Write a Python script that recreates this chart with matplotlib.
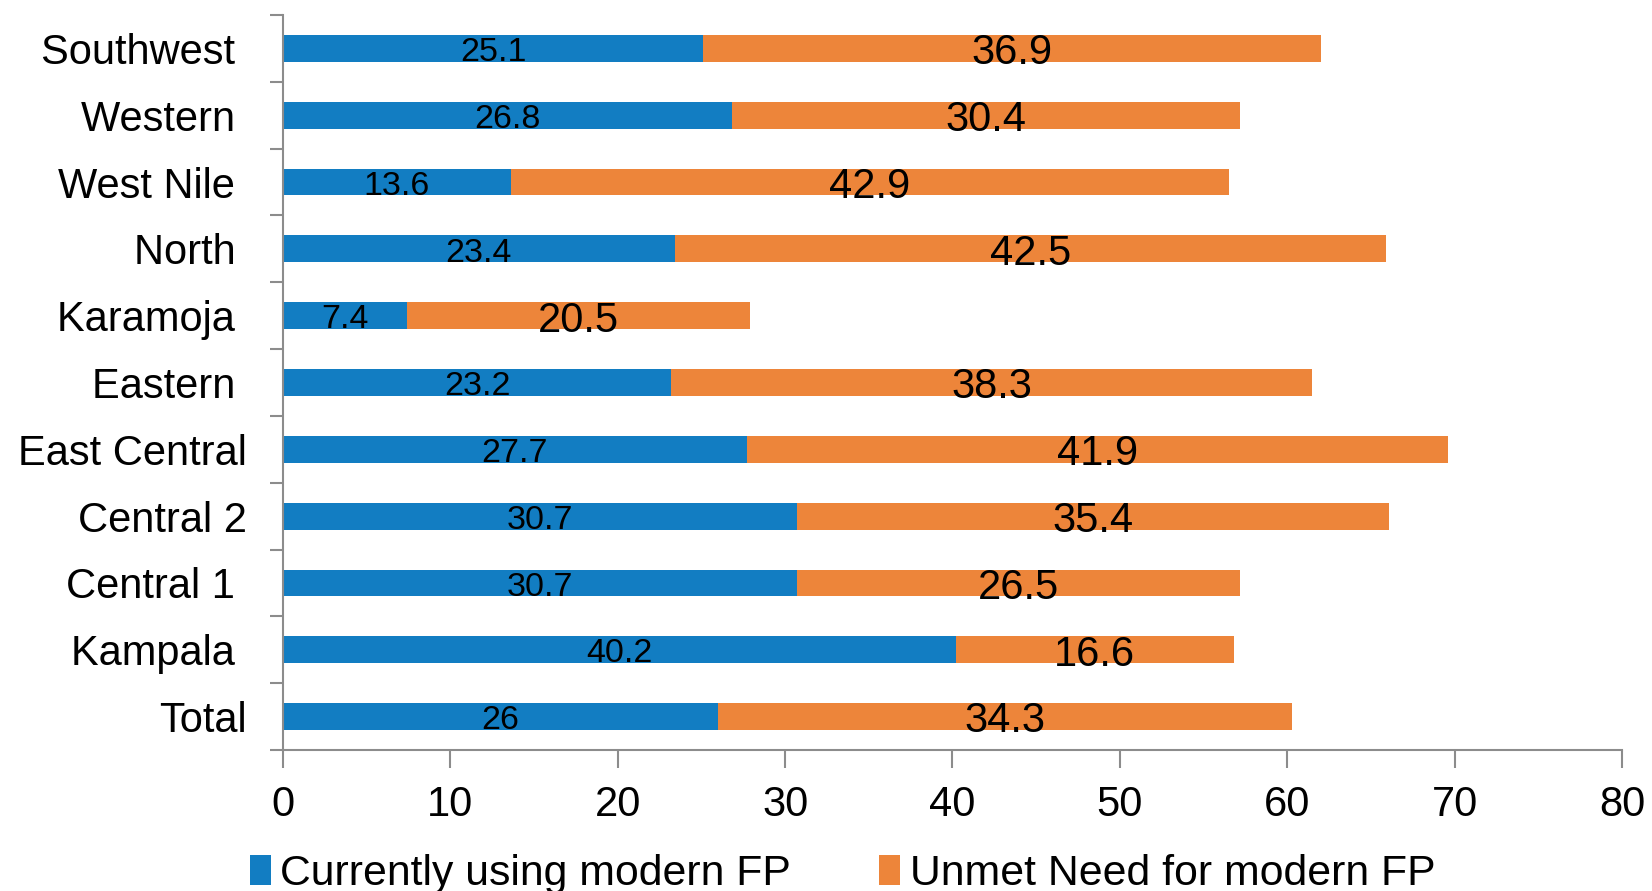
import matplotlib
matplotlib.use("Agg")
import matplotlib.pyplot as plt
from matplotlib.ticker import FixedLocator

categories = ["Southwest ", "Western ", "West Nile ", "North ", "Karamoja ", "Eastern ",
              "East Central", "Central 2", "Central 1 ", "Kampala ", "Total"]
using_modern = [25.1, 26.8, 13.6, 23.4, 7.4, 23.2, 27.7, 30.7, 30.7, 40.2, 26]
unmet_need = [36.9, 30.4, 42.9, 42.5, 20.5, 38.3, 41.9, 35.4, 26.5, 16.6, 34.3]
series_names = ["Currently using modern FP", "Unmet Need for modern FP"]
x_ticks = [0, 10, 20, 30, 40, 50, 60, 70, 80]

BLUE = "#127DC2"
ORANGE = "#ED853A"
GRAY = "#8C8C8C"
FONT = "Liberation Sans"

plt.rcParams["font.family"] = [FONT, "DejaVu Sans"]

fig = plt.figure(figsize=(16.52, 8.91), dpi=100)
ax = fig.add_axes([0.1713, 0.1582, 0.9818 - 0.1713, 0.9832 - 0.1582])

n = len(categories)
ypos = [n - 1 - i for i in range(n)]

b1 = ax.barh(ypos, using_modern, height=0.4, color=BLUE, label=series_names[0])
b2 = ax.barh(ypos, unmet_need, left=using_modern, height=0.4, color=ORANGE, label=series_names[1])

for y, u, m in zip(ypos, using_modern, unmet_need):
    ax.annotate(f"{u:g}", (u / 2, y), xytext=(0, -3), textcoords="offset points",
                ha="center", va="center", fontsize=24.5, color="black")
    ax.annotate(f"{m:g}", (u + m / 2, y), xytext=(0, -3.5), textcoords="offset points",
                ha="center", va="center", fontsize=30, color="black")

ax.set_xlim(0, 80)
ax.set_ylim(-0.5, n - 0.5)
ax.set_xticks(x_ticks)
ax.set_xticklabels([str(t) for t in x_ticks])
ax.yaxis.set_major_locator(FixedLocator([i - 0.5 for i in range(n + 1)]))
ax.yaxis.set_major_formatter(plt.NullFormatter())
ax.set_yticks(ypos, minor=True)
ax.set_yticklabels(categories, minor=True)

ax.tick_params(axis="y", which="major", length=9.4, width=1.5, color=GRAY, direction="out")
ax.tick_params(axis="y", which="minor", length=0, pad=26, labelsize=30)
ax.tick_params(axis="x", which="major", length=13, width=1.5, color=GRAY, direction="out",
               labelsize=30, pad=12)

for s in ["top", "right"]:
    ax.spines[s].set_visible(False)
for s in ["left", "bottom"]:
    ax.spines[s].set_color(GRAY)
    ax.spines[s].set_linewidth(1.5)

leg = fig.legend(handles=[b1, b2], loc="center", bbox_to_anchor=(0.51, 0.019),
                 ncol=2, frameon=False, fontsize=30.8, handlelength=0.5, handleheight=0.7,
                 handletextpad=0.22, columnspacing=2.05, borderaxespad=0)

fig.savefig("out.png", dpi=100)
